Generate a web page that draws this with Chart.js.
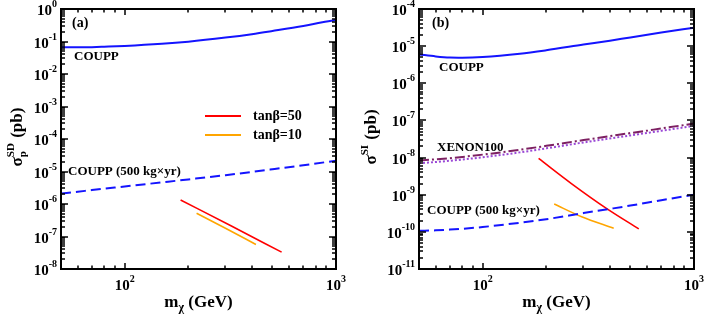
<!DOCTYPE html>
<html lang="en">
<head>
<meta charset="UTF-8">
<title>COUPP reach</title>
<style>
  body { margin: 0; background: #fff; }
  .wrap { position: relative; width: 705px; height: 317px; }
  canvas { position: absolute; top: 0; }
  #chartA { left: 0; }
  #chartB { left: 352px; }
</style>
<script src="https://cdn.jsdelivr.net/npm/chart.js"></script>
</head>
<body>
<div class="wrap">
  <canvas id="chartA" width="352" height="317"></canvas>
  <canvas id="chartB" width="353" height="317"></canvas>
</div>
<script>
// shared x axis (GeV)
const xMin = 50, xMax = 1000;
const xMajor = [100, 1000];

// COUPP limit curves (both panels use the same mass grid)
const coupMass = [50, 60, 70, 80, 100, 150, 200, 300, 400, 500, 700, 1000];

// panel (a) - spin dependent, pb
const couppSD    = [0.066, 0.066, 0.067, 0.069, 0.073, 0.085, 0.099, 0.132, 0.168, 0.21, 0.30, 0.47];
const coupp500SD = [2.1e-6, 2.39e-6, 2.68e-6, 2.95e-6, 3.46e-6, 4.63e-6, 5.7e-6, 7.7e-6, 9.7e-6, 1.17e-5, 1.56e-5, 2.14e-5];
const tb50MassSD = [184, 320, 553];
const tb50SD     = [1.33e-6, 2.1e-7, 3.3e-8];
const tb10MassSD = [219, 300, 418];
const tb10SD     = [5.2e-7, 1.8e-7, 5.7e-8];
const yExpA = [-8, -7, -6, -5, -4, -3, -2, -1, 0];

// panel (b) - spin independent, pb
const couppSI    = [6.0e-6, 5.3e-6, 4.95e-6, 4.9e-6, 5.1e-6, 6.25e-6, 7.75e-6, 1.1e-5, 1.4e-5, 1.72e-5, 2.32e-5, 3.15e-5];
const coupp500SI = [1.07e-10, 1.1e-10, 1.15e-10, 1.21e-10, 1.35e-10, 1.76e-10, 2.19e-10, 3.2e-10, 4.15e-10, 5.1e-10, 7.1e-10, 1.0e-9];
const xenonMass  = [50, 70, 100, 150, 200, 300, 500, 700, 1000];
const xenonDD    = [8.3e-9, 9.65e-9, 1.2e-8, 1.62e-8, 2.07e-8, 2.96e-8, 4.57e-8, 6.08e-8, 8.23e-8];
const xenonDot   = [7.0e-9, 8.2e-9, 1.02e-8, 1.38e-8, 1.77e-8, 2.55e-8, 3.95e-8, 5.25e-8, 7.15e-8];
const tb50MassSI = [184, 263, 385, 548];
const tb50SI     = [9.5e-9, 2.0e-9, 4.3e-10, 1.2e-10];
const tb10MassSI = [218, 294, 417];
const tb10SI     = [5.6e-10, 2.55e-10, 1.25e-10];
const yExpB = [-11, -10, -9, -8, -7, -6, -5, -4];

const BLUE = '#1414ff', RED = '#ff0000', ORANGE = '#ffa500';
const PLUM = '#7d2062', VIOLET = '#9a48d6';
const SERIF = '"Liberation Serif", "DejaVu Serif", serif';

function series(mass, vals, color, width, dash) {
  return {
    data: mass.map((m, i) => ({ x: m, y: vals[i] })),
    borderColor: color,
    borderWidth: width,
    borderDash: dash || [],
    fill: false,
    pointRadius: 0
  };
}

function pow10(ctx, exp, x, y, align) {
  // y is the baseline of "10"
  ctx.font = 'bold 15px ' + SERIF;
  const wb = ctx.measureText('10').width;
  ctx.font = 'bold 10px ' + SERIF;
  const e = String(exp);
  const we = ctx.measureText(e).width;
  let x0 = align === 'right' ? x - wb - we : x - (wb + we) / 2;
  ctx.textAlign = 'left';
  ctx.font = 'bold 15px ' + SERIF;
  ctx.fillText('10', x0, y);
  ctx.font = 'bold 10px ' + SERIF;
  ctx.fillText(e, x0 + wb, y - 8);
}

function yTitle(ctx, cx, cy, sup, sub) {
  const big = 'bold 17px ' + SERIF, small = 'bold 11px ' + SERIF;
  ctx.save();
  ctx.translate(cx, cy);
  ctx.rotate(-Math.PI / 2);
  ctx.textAlign = 'left';
  ctx.font = big;
  const ws = ctx.measureText('σ').width, wt = ctx.measureText(' (pb)').width;
  ctx.font = small;
  const wm = Math.max(ctx.measureText(sup).width, sub ? ctx.measureText(sub).width : 0) + 1;
  let x = -(ws + wm + wt) / 2;
  ctx.font = big; ctx.fillText('σ', x, 0); x += ws;
  ctx.font = small; ctx.fillText(sup, x, -8);
  if (sub) ctx.fillText(sub, x, 4);
  x += wm;
  ctx.font = big; ctx.fillText(' (pb)', x, 0);
  ctx.restore();
}

function xTitle(ctx, cx, y) {
  const big = 'bold 17px ' + SERIF, small = 'bold 12px ' + SERIF;
  ctx.textAlign = 'left';
  ctx.font = big;
  const wm = ctx.measureText('m').width, wt = ctx.measureText(' (GeV)').width;
  ctx.font = small;
  const wc = ctx.measureText('χ').width;
  let x = cx - (wm + wc + wt) / 2;
  ctx.font = big; ctx.fillText('m', x, y); x += wm;
  ctx.font = small; ctx.fillText('χ', x, y + 4); x += wc;
  ctx.font = big; ctx.fillText(' (GeV)', x, y);
}

function decor(cfg) {
  return {
    id: 'decor',
    afterDraw(chart) {
      const ctx = chart.ctx, a = chart.chartArea;
      const xs = chart.scales.x, ys = chart.scales.y;
      ctx.save();
      ctx.strokeStyle = '#000';
      ctx.fillStyle = '#000';
      ctx.lineWidth = 1.5;
      ctx.beginPath();
      // x ticks, top and bottom, pointing inwards
      for (let d = 1; d <= 3; d++) {
        for (let k = 1; k <= 9; k++) {
          const v = k * Math.pow(10, d);
          if (v < xMin || v > xMax) continue;
          const px = Math.round(xs.getPixelForValue(v));
          const len = k === 1 ? 6 : 3.5;
          ctx.moveTo(px, a.bottom); ctx.lineTo(px, a.bottom - len);
          ctx.moveTo(px, a.top); ctx.lineTo(px, a.top + len);
        }
      }
      // y ticks, left and right
      const eMin = cfg.yExp[0], eMax = cfg.yExp[cfg.yExp.length - 1];
      for (let d = eMin; d <= eMax; d++) {
        for (let k = 1; k <= 9; k++) {
          if (d === eMax && k > 1) break;
          const py = Math.round(ys.getPixelForValue(k * Math.pow(10, d)));
          const len = k === 1 ? 7 : 4;
          ctx.moveTo(a.left, py); ctx.lineTo(a.left + len, py);
          ctx.moveTo(a.right, py); ctx.lineTo(a.right - len, py);
        }
      }
      ctx.stroke();
      ctx.lineWidth = 2;
      ctx.strokeRect(a.left, a.top, a.right - a.left, a.bottom - a.top);

      // tick labels
      ctx.textBaseline = 'alphabetic';
      cfg.yExp.forEach(e => {
        const py = ys.getPixelForValue(Math.pow(10, e));
        pow10(ctx, e, a.left - 4, py + 6, 'right');
      });
      xMajor.forEach(v => {
        pow10(ctx, Math.round(Math.log10(v)), xs.getPixelForValue(v), a.bottom + 21, 'center');
      });

      // axis titles
      xTitle(ctx, (a.left + a.right) / 2, 307);
      yTitle(ctx, cfg.titleX, 137, cfg.sup, cfg.sub);

      // annotations
      ctx.textAlign = 'left';
      ctx.font = 'bold 14px ' + SERIF;
      ctx.fillText(cfg.tag, cfg.tagX, 27);
      ctx.font = 'bold 13px ' + SERIF;
      cfg.notes.forEach(n => ctx.fillText(n[0], n[1], n[2]));

      // legend
      if (cfg.legend) {
        ctx.lineWidth = 2;
        cfg.legend.forEach(l => {
          ctx.strokeStyle = l.color;
          ctx.beginPath();
          ctx.moveTo(205, l.y); ctx.lineTo(241, l.y);
          ctx.stroke();
          ctx.font = 'bold 14px ' + SERIF;
          ctx.fillText(l.text, 253, l.y + 4);
        });
      }
      ctx.restore();
    }
  };
}

function makeChart(id, datasets, yExp, pad, cfg) {
  return new Chart(document.getElementById(id), {
    type: 'line',
    data: { datasets },
    options: {
      responsive: false,
      animation: false,
      layout: { padding: pad },
      plugins: { legend: { display: false }, tooltip: { enabled: false } },
      elements: { line: { cubicInterpolationMode: 'monotone' } },
      scales: {
        x: { type: 'logarithmic', min: xMin, max: xMax, display: false },
        y: { type: 'logarithmic', min: Math.pow(10, yExp[0]), max: Math.pow(10, yExp[yExp.length - 1]), display: false }
      }
    },
    plugins: [decor(Object.assign({ yExp }, cfg))]
  });
}

makeChart('chartA', [
  series(coupMass, couppSD, BLUE, 2),
  series(coupMass, coupp500SD, BLUE, 2, [10, 5]),
  series(tb50MassSD, tb50SD, RED, 1.6),
  series(tb10MassSD, tb10SD, ORANGE, 1.6)
], yExpA, { left: 61, right: 16, top: 9, bottom: 48 }, {
  titleX: 22, sup: 'SD', sub: 'p', tag: '(a)', tagX: 72,
  notes: [['COUPP', 74, 60], ['COUPP (500 kg×yr)', 68, 175]],
  legend: [{ color: RED, y: 116, text: 'tanβ=50' }, { color: ORANGE, y: 135, text: 'tanβ=10' }]
});

makeChart('chartB', [
  series(coupMass, couppSI, BLUE, 2),
  series(xenonMass, xenonDD, PLUM, 2, [10, 3, 2, 3]),
  series(xenonMass, xenonDot, VIOLET, 2, [2, 2]),
  series(coupMass, coupp500SI, BLUE, 2, [10, 5]),
  series(tb50MassSI, tb50SI, RED, 1.6),
  series(tb10MassSI, tb10SI, ORANGE, 1.6)
], yExpB, { left: 67, right: 11, top: 9, bottom: 48 }, {
  titleX: 24, sup: 'SI', sub: '', tag: '(b)', tagX: 80,
  notes: [['COUPP', 87, 71], ['XENON100', 85, 151], ['COUPP (500 kg×yr)', 75, 214]]
});
</script>
</body>
</html>
